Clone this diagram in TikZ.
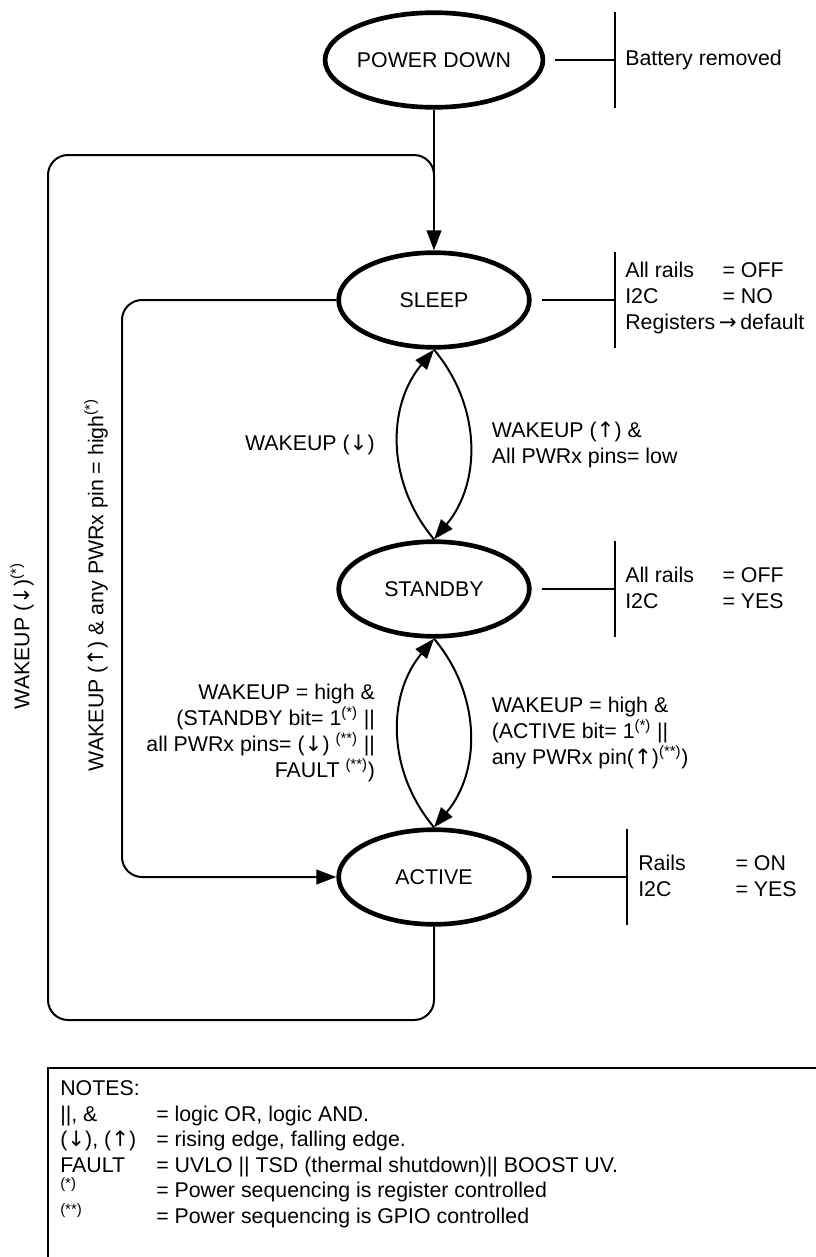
\documentclass[tikz,border=0pt]{standalone}
\usepackage{fontspec}
\setmainfont{Liberation Sans}
\newfontfamily\arrowfont{DejaVu Sans}
\usetikzlibrary{shapes.geometric,arrows.meta}
\newcommand\stA{\textsuperscript{(*)}}
\newcommand\stB{\textsuperscript{(**)}}
\newcommand\up{{\arrowfont ↑}}
\newcommand\dn{{\arrowfont ↓}}
\tikzset{
 stnode/.style={ellipse,draw,line width=3.5pt,minimum width=143pt,minimum height=71pt,inner sep=0pt,font=\fontsize{16}{19.5}\selectfont},
 conn/.style={line width=1.5pt},
 arr/.style={conn,-{Triangle[length=15pt,width=11pt]}},
 lbl/.style={inner sep=0pt,font=\fontsize{16}{19.5}\selectfont},
}
\begin{document}
\begin{tikzpicture}[x=0.75pt,y=-0.75pt]
 \useasboundingbox (0,0) rectangle (815,1257);
 \node[stnode] (pd) at (434,60) {POWER DOWN};
 \node[stnode] (sleep) at (434,300) {SLEEP};
 \node[stnode] (standby) at (434,589) {STANDBY};
 \node[stnode] (active) at (434,877) {ACTIVE};
 \draw[arr] (pd) -- (sleep);
 \coordinate (join) at (434,200);
 \draw[conn,rounded corners=15pt] (active.south) -- (434,1020) -- (48,1020) -- (48,155) -- (434,155) -- (join);
 \draw[arr,rounded corners=15pt] (sleep.west) -- (122,300) -- (122,877) -- (active.west);
 \draw[arr] (standby.north) to[bend left=40] node[lbl,anchor=east,xshift=-17pt]{WAKEUP (\dn)} (sleep.south);
 \draw[arr] (sleep.south) to[bend left=40] node[lbl,anchor=west,xshift=16pt,align=left]{WAKEUP (\up) \&\\All PWRx pins= low} (standby.north);
 \draw[arr] (active.north) to[bend left=40] node[lbl,anchor=east,xshift=-17pt,align=right]{WAKEUP = high \&\\(STANDBY bit= 1\stA\ ||\\all PWRx pins= (\dn) \stB\ ||\\FAULT \stB)} (standby.south);
 \draw[arr] (standby.south) to[bend left=40] node[lbl,anchor=west,xshift=16pt,align=left]{WAKEUP = high \&\\(ACTIVE bit= 1\stA\ ||\\any PWRx pin(\up)\stB)} (active.north);
 \node[lbl,rotate=90] (outerlbl) at (22,636) {WAKEUP (\dn)\stA};
 \node[lbl,rotate=90] (innerlbl) at (96,585) {WAKEUP (\up) \& any PWRx pin = high\stA};
 \coordinate (pdbar) at (615,60);
 \coordinate (sbar) at (615,300);
 \coordinate (sbbar) at (615,589);
 \coordinate (abar) at (627,877);
 \draw[conn,shorten <=7.5pt] (pd.east) -- (pdbar);
 \draw[conn,shorten <=7.5pt] (sleep.east) -- (sbar);
 \draw[conn,shorten <=7.5pt] (standby.east) -- (sbbar);
 \draw[conn,shorten <=15pt] (active.east) -- (abar);
 \draw[conn] (pdbar) ++(0,-48) -- ++(0,96);
 \draw[conn] (sbar) ++(0,-48) -- ++(0,96);
 \draw[conn] (sbbar) ++(0,-48) -- ++(0,96);
 \draw[conn] (abar) ++(0,-48) -- ++(0,96);
 \node[lbl,anchor=west] (pdinfo) at (625,60) {Battery removed};
 \node[lbl,anchor=west,align=left] (sinfo) at (625,298) {\makebox[73pt][l]{All rails}= OFF\\\makebox[73pt][l]{I2C}= NO\\Registers\,{\arrowfont →}\,default};
 \node[lbl,anchor=west,align=left] (sbinfo) at (625,588) {\makebox[73pt][l]{All rails}= OFF\\\makebox[73pt][l]{I2C}= YES};
 \node[lbl,anchor=west,align=left] (ainfo) at (638,876) {\makebox[73pt][l]{Rails}= ON\\\makebox[73pt][l]{I2C}= YES};
 \draw[line width=1pt] (48,1270) -- (48,1068) -- (830,1068);
 \node[lbl,anchor=base west] (nhead) at (60,1095) {NOTES:};
 \node[lbl,anchor=base west] (n1a) at (60,1121) {||, \&};
 \node[lbl,anchor=base west] (n1b) at (156,1121) {= logic OR, logic AND.};
 \node[lbl,anchor=base west] (n2a) at (60,1146) {(\dn), (\up)};
 \node[lbl,anchor=base west] (n2b) at (156,1146) {= rising edge, falling edge.};
 \node[lbl,anchor=base west] (n3a) at (60,1172) {FAULT};
 \node[lbl,anchor=base west] (n3b) at (156,1172) {= UVLO || TSD (thermal shutdown)|| BOOST UV.};
 \node[lbl,anchor=base west] (n4a) at (60,1197) {\stA};
 \node[lbl,anchor=base west] (n4b) at (156,1197) {= Power sequencing is register controlled};
 \node[lbl,anchor=base west] (n5a) at (60,1223) {\stB};
 \node[lbl,anchor=base west] (n5b) at (156,1223) {= Power sequencing is GPIO controlled};
\end{tikzpicture}
\end{document}
